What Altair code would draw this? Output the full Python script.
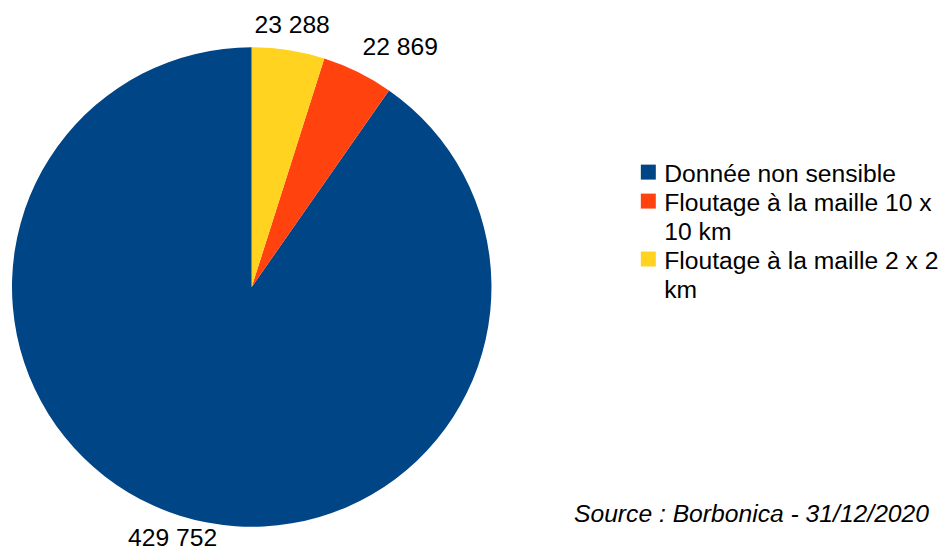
import altair as alt
import pandas as pd

CATEGORIES = ["Donnée non sensible", "Floutage à la maille 10 x 10 km", "Floutage à la maille 2 x 2 km"]
VALUES = [429752, 22869, 23288]
COLORS = ["#004586", "#ff420e", "#ffd320"]
LEGEND_LINES = ["Donnée non sensible", "Floutage à la maille 10 x\n10 km", "Floutage à la maille 2 x 2\nkm"]
SOURCE = "Source : Borbonica - 31/12/2020"

df = pd.DataFrame({"cat": CATEGORIES, "value": VALUES, "idx": list(range(len(CATEGORIES))),
                   "legend": LEGEND_LINES})

CX, CY, R = 244, 279, 240
LR = 264
FONT = "Liberation Sans"
FS = 24.7

color = alt.Color("cat:N", scale=alt.Scale(domain=CATEGORIES, range=COLORS), legend=None)
tscale = alt.Scale(domain=[0, 1], nice=False, zero=True)

base = alt.Chart(df).transform_stack(
    stack="value", groupby=[], as_=["v0", "v1"], offset="normalize",
    sort=[alt.SortField("idx", order="descending")]
).transform_calculate(
    mid="(datum.v0 + datum.v1) / 2",
    label="replace(format(datum.value, ','), ',', ' ')"
)

pie = base.mark_arc(outerRadius=R).encode(
    theta=alt.Theta("v0:Q", scale=tscale), theta2="v1:Q", color=color,
    x=alt.value(CX), y=alt.value(CY)
)

lab_c = base.transform_filter(alt.datum.idx != 1).mark_text(
    radius=LR, font=FONT, fontSize=FS, align="center", baseline="middle", color="black"
).encode(theta=alt.Theta("mid:Q", scale=tscale), text="label:N", x=alt.value(CX), y=alt.value(CY))

lab_l = base.transform_filter(alt.datum.idx == 1).mark_text(
    radius=LR, font=FONT, fontSize=FS, align="left", baseline="middle", color="black", dx=-6, dy=-2
).encode(theta=alt.Theta("mid:Q", scale=tscale), text="label:N", x=alt.value(CX), y=alt.value(CY))

leg = alt.Chart(df).transform_calculate(
    lines="split(datum.legend, '\\n')", n="length(split(datum.legend, '\\n'))"
).transform_window(
    cum="sum(n)", sort=[alt.SortField("idx")], frame=[None, 0]
).transform_calculate(row="datum.cum - datum.n")

yscale = alt.Scale(domain=[0, 10], range=[164, 454], nice=False, zero=False)

leg_sq = leg.mark_square(size=225, opacity=1, filled=True).encode(
    x=alt.value(641), y=alt.Y("row:Q", scale=yscale, axis=None), color=color
)
leg_tx = leg.mark_text(font=FONT, fontSize=FS, align="left", baseline="alphabetic",
                       lineHeight=29, dy=10, color="black").encode(
    x=alt.value(657), y=alt.Y("row:Q", scale=yscale, axis=None), text="lines:N"
)

src = alt.Chart(pd.DataFrame({"t": [SOURCE]})).mark_text(
    font=FONT, fontSize=FS, fontStyle="italic", align="right", baseline="alphabetic", color="black"
).encode(text="t:N", x=alt.value(922), y=alt.value(514))

chart = alt.layer(pie, lab_c, lab_l, leg_sq, leg_tx, src).properties(
    width=931, height=536, padding=0
).configure_view(stroke=None)

chart.save("out.html", embed_options={"renderer": "svg", "actions": False})
